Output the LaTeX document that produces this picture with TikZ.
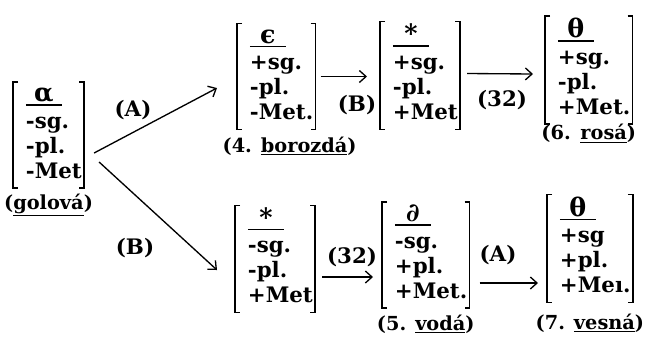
\documentclass[tikz,border=0pt]{standalone}
\usepackage{fontspec}
\setmainfont{DejaVu Serif}
\usetikzlibrary{arrows.meta,positioning,calc}

% feature matrix: symbol over a short rule, then three lines
\newcommand\fm[4]{%
  \begin{tabular}{@{\hspace{9pt}}l@{\hspace{1pt}}}
  \rlap{\rule[-3pt]{27pt}{1.2pt}}\makebox[27pt]{\fontsize{19}{18.75}\selectfont#1}\\[1.25pt]
  #2\\ #3\\ #4
  \end{tabular}}

\tikzset{
  fmat/.style={anchor=west,inner xsep=0.5pt,inner ysep=1.5pt},
  brk/.style={line width=1.1pt},
  arr/.style={line width=1pt,-{Straight Barb[length=5pt,width=9pt]}},
  lbl/.style={inner sep=1pt},
  wordcap/.style={inner sep=0pt,font=\bfseries\fontsize{14.5}{17}\selectfont}
}

\begin{document}
\begin{tikzpicture}[x=0.75pt,y=-0.75pt,font=\bfseries\fontsize{16}{18.75}\selectfont]
    \useasboundingbox (0,0) rectangle (646,337);
    \foreach \n/\x/\y/\s/\a/\b/\c in {
      1/13/135/α/-sg./-pl./-Met,
      2/237/76.5/ϵ/+sg./-pl./-Met.,
      3/380/75.5/*/+sg./-pl./+Met,
      4/545/70/θ/+sg./-pl./+Met.,
      5/235/259/*/-sg./-pl./+Met,
      6/382/255/∂/-sg./+pl./+Met.,
      7/547/248.5/θ/+sg/+pl./+Meı.}{
      \node[fmat] (b\n) at (\x,\y) {\fm{\s}{\a}{\b}{\c}};
      \draw[brk] ($(b\n.north west)+(5,0)$) -| (b\n.south west) -- ++(5,0);
      \draw[brk] ($(b\n.north east)+(-5,0)$) -| (b\n.south east) -- ++(-5,0);
    }
    % word forms
    \node[wordcap,below=4pt of b1] (c1) {(\underline{golová})};
    \node[wordcap,below=5pt of b2,xshift=10pt] (c2) {(4. \underline{borozdá})};
    \node[wordcap,below=0pt of b4] (c4) {(6.\enspace\underline{rosá})};
    \node[wordcap,below=5pt of b6] (c6) {(5. \underline{vodá})};
    \node[wordcap,below=8pt of b7] (c7) {(7. \underline{vesná})};
    % rules applied
    \draw[arr] ($(b1.east)+(10,18)$) -- ($(b2.west)+(-20,11.5)$);
    \draw[arr] ($(b1.east)+(15,27)$) -- ($(b5.west)+(-18,11)$);
    \draw[arr] ($(b2.east)+(5,0)$) -- ($(b3.west)+(-13,1)$);
    \draw[arr] ($(b3.east)+(7,-2)$) -- ($(b4.west)+(-12,4)$);
    \draw[arr] ($(b5.east)+(7,18)$) -- ($(b6.west)+(-9,22)$);
    \draw[arr] ($(b6.east)+(10,28)$) -- ($(b7.west)+(-9,34.5)$);
    \node[lbl] (rA1) at (133,110) {(A)};
    \node[lbl] (rB1) at (135,248) {(B)};
    \node[lbl] (rB2) at (357,105) {(B)};
    \node[lbl] (r32a) at (502,100) {(32)};
    \node[lbl] (r32b) at (352,257) {(32)};
    \node[lbl] (rA2) at (498,255) {(A)};
  \end{tikzpicture}
\end{document}
